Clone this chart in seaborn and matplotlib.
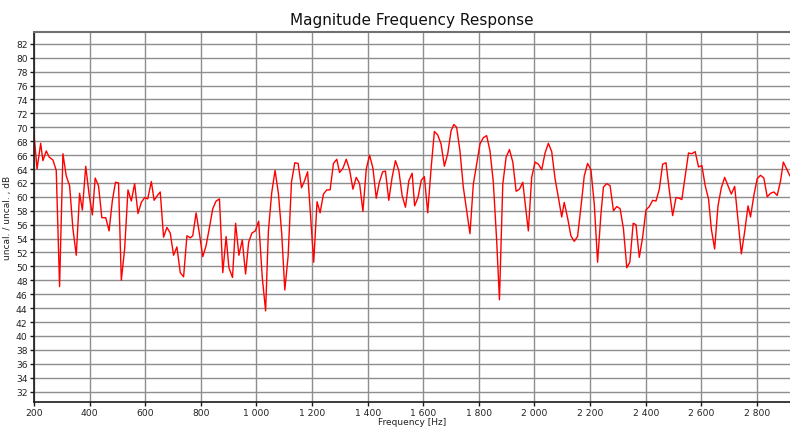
"""
Magnitude frequency response, redrawn with seaborn.
Saves out.png (790x431).
"""
import matplotlib
matplotlib.use("Agg")
import matplotlib.pyplot as plt
from matplotlib.ticker import FuncFormatter
import seaborn as sns

# --- data ---------------------------------------------------------------
freq_hz = [
    199, 211, 224, 232, 244, 255, 268, 280, 292, 304, 316, 328, 340, 352, 364,
    374, 386, 398, 410, 420, 432, 444, 458, 470, 482, 493, 504, 514, 526, 538,
    550, 562, 574, 586, 598, 609, 622, 632, 644, 654, 666, 678, 690, 702, 714,
    726, 738, 750, 762, 771, 783, 795, 807, 819, 831, 843, 855, 867, 879, 891,
    901, 914, 925, 937, 949, 961, 972, 984, 996, 1008, 1021, 1033, 1043, 1055,
    1067, 1079, 1091, 1102, 1114, 1126, 1138, 1150, 1162, 1173, 1184, 1196,
    1206, 1218, 1229, 1241, 1253, 1265, 1277, 1289, 1299, 1311, 1323, 1335,
    1347, 1359, 1371, 1383, 1395, 1407, 1419, 1431, 1442, 1454, 1464, 1476,
    1488, 1500, 1512, 1524, 1536, 1548, 1560, 1569, 1581, 1593, 1604, 1616,
    1628, 1640, 1652, 1664, 1676, 1688, 1700, 1710, 1720, 1732, 1744, 1756,
    1768, 1780, 1792, 1804, 1816, 1828, 1840, 1852, 1864, 1874, 1886, 1898,
    1910, 1922, 1934, 1946, 1958, 1968, 1978, 1990, 2002, 2014, 2026, 2038,
    2050, 2062, 2074, 2086, 2098, 2107, 2119, 2131, 2143, 2155, 2167, 2179,
    2191, 2203, 2215, 2227, 2239, 2248, 2260, 2272, 2284, 2296, 2308, 2320,
    2332, 2343, 2355, 2365, 2377, 2389, 2401, 2413, 2425, 2437, 2449, 2461,
    2473, 2485, 2497, 2509, 2521, 2530, 2542, 2554, 2566, 2578, 2590, 2602,
    2614, 2626, 2636, 2648, 2660, 2672, 2684, 2696, 2708, 2720, 2732, 2744,
    2756, 2768, 2777, 2789, 2801, 2813, 2825, 2837, 2849, 2861, 2873, 2885,
    2895, 2907, 2919,
]
magnitude_db = [
    69.4, 64.0, 67.7, 65.2, 66.6, 65.7, 65.3, 63.8, 47.1, 66.2, 63.0, 61.6, 55.4,
    51.6, 60.5, 58.1, 64.4, 60.4, 57.4, 62.7, 61.6, 57.0, 57.0, 55.1, 59.5, 62.1,
    62.0, 48.0, 52.5, 61.0, 59.4, 61.9, 57.6, 59.2, 59.9, 59.7, 62.2, 59.5, 60.2,
    60.7, 54.2, 55.6, 54.8, 51.6, 52.8, 49.1, 48.5, 54.4, 54.1, 54.4, 57.7, 54.7,
    51.4, 53.0, 55.6, 58.3, 59.4, 59.7, 49.1, 54.3,
    49.8, 48.4, 56.2, 51.6, 53.8, 48.9, 53.5, 54.8, 55.1, 56.5, 48.4, 43.6,
    55.1, 60.6, 63.8, 60.5, 54.7, 46.6, 51.5, 62.1, 64.9, 64.8, 61.3, 62.3,
    63.6, 56.6, 50.6, 59.3, 57.7, 60.4, 61.0, 61.0, 64.8, 65.4, 63.5, 64.1,
    65.4, 63.9, 61.1, 62.8, 61.9, 57.9, 64.0, 66.0, 64.1, 59.8, 62.1, 63.6,
    63.7, 59.5, 62.8, 65.2, 63.8, 60.2, 58.5, 62.3, 63.4, 58.7, 59.9, 62.4,
    62.9, 57.7, 64.0, 69.4, 68.9, 67.6, 64.4, 66.2, 69.5, 70.4, 70.0, 66.6,
    61.4, 58.0, 54.7, 61.8, 64.7, 67.6, 68.5, 68.8, 66.6, 62.1, 53.7, 45.2,
    61.8, 65.7, 66.8, 65.0, 60.8, 61.1, 62.1, 58.5, 55.1, 62.8, 65.0, 64.7,
    63.9, 66.3, 67.7, 66.5, 62.6, 59.9, 57.1, 59.2, 57.0, 54.4, 53.6, 54.3,
    58.5, 63.0, 64.8, 63.9, 59.0, 50.6, 57.5, 61.4, 61.9, 61.6, 58.0, 58.6,
    58.3, 55.4, 49.8, 50.6, 56.2, 56.0, 51.3, 54.2, 58.1, 58.6, 59.5, 59.4,
    61.1, 64.7, 64.9, 60.9, 57.3, 59.9, 59.8, 59.6, 63.0, 66.3, 66.2, 66.5,
    64.3, 64.5, 61.6, 59.7, 55.4, 52.5, 58.7, 61.3, 62.8, 61.6, 60.4, 61.5,
    56.7, 51.8, 55.0, 58.7, 57.1, 60.2, 62.6, 63.1, 62.7, 60.0, 60.5, 60.7,
    60.2, 62.3, 65.0, 64.0, 63.0,
]
x_ticks = list(range(200, 3000, 200))
y_ticks = list(range(32, 84, 2))


def thousands(v, pos):
    return f"{int(v):,}".replace(",", " ")


sns.set_theme(style="white")
plt.rcParams["font.family"] = ["DejaVu Sans"]

fig = plt.figure(figsize=(7.9, 4.31), dpi=100)
ax = fig.add_axes([34 / 790, 1 - 403 / 431, 756 / 790, 370 / 431])

sns.lineplot(x=freq_hz, y=magnitude_db, color="#ff0000", linewidth=1.0, ax=ax)

ax.set_xlim(200, 2919)
ax.set_ylim(30.5, 83.7)
ax.set_xticks(x_ticks)
ax.set_yticks(y_ticks)
ax.xaxis.set_major_formatter(FuncFormatter(thousands))

ax.grid(True, color="#8e8e8e", linewidth=1.0)
ax.set_axisbelow(True)

for side in ("left", "bottom"):
    ax.spines[side].set_color("#1a1a1a")
    ax.spines[side].set_linewidth(1.2)
ax.spines["top"].set_color("#707070")
ax.spines["top"].set_linewidth(1.5)
ax.spines["right"].set_visible(False)

ax.tick_params(axis="both", which="major", direction="out", length=3, width=1,
               color="#1a1a1a", labelsize=6.6, labelcolor="#222222", pad=1.5,
               bottom=True, left=True)

# axis labels placed where the reference has them
ax.set_xlabel("Frequency [Hz]", fontsize=6.5, color="#222222")
ax.xaxis.set_label_coords(0.5, -20 / 370)
ax.xaxis.label.set_va("center")
ax.set_ylabel("uncal. / uncal. , dB", fontsize=6.5, color="#222222")
ax.yaxis.set_label_coords(-26 / 756, 0.5)
ax.yaxis.label.set_va("center")
ax.set_title("Magnitude Frequency Response", fontsize=11, color="#111111", pad=6)

fig.savefig("out.png", dpi=100)
print("saved out.png")
